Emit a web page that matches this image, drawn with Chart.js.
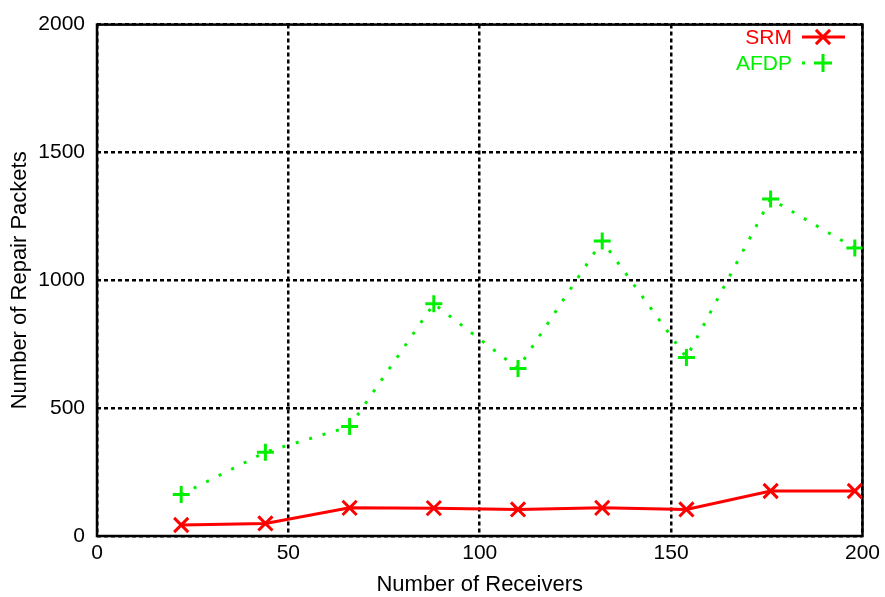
<!DOCTYPE html>
<html>
<head>
<meta charset="utf-8">
<script src="https://cdn.jsdelivr.net/npm/chart.js@4/dist/chart.umd.min.js"></script>
<style>
  html, body { margin: 0; padding: 0; background: #fff; }
  #wrap { width: 885px; height: 597px; }
</style>
</head>
<body>
<div id="wrap"><canvas id="c" width="885" height="597"></canvas></div>
<script>
const receivers = [22, 44, 66, 88, 110, 132, 154, 176, 198];
const srmValues = [43, 49, 110, 109, 104, 110, 104, 176, 176];
const afdpValues = [162, 328, 428, 908, 655, 1154, 698, 1318, 1126];
const xTicks = [0, 50, 100, 150, 200];
const yTicks = [0, 500, 1000, 1500, 2000];
const seriesNames = ['SRM', 'AFDP'];
const xTitle = 'Number of Receivers';
const yTitle = 'Number of Repair Packets';

const RED = '#ff0000';
const GREEN = '#00f000';
const FONT = '"Liberation Sans", Arial, Helvetica, sans-serif';

const toPts = (xs, ys) => xs.map((x, i) => ({ x: x, y: ys[i] }));

const frameAndLegend = {
  id: 'frameAndLegend',
  beforeDatasetsDraw(chart) {
    const { ctx, chartArea: a } = chart;
    ctx.save();
    ctx.strokeStyle = '#000';
    ctx.lineWidth = 2.5;
    ctx.setLineDash([]);
    ctx.strokeRect(a.left, a.top, a.right - a.left, a.bottom - a.top);
    ctx.restore();
  },
  afterDatasetsDraw(chart) {
    const { ctx } = chart;
    const rows = [
      { name: seriesNames[0], color: RED, y: 37, dash: [], style: 'crossRot', r: 10, x2: 845 },
      { name: seriesNames[1], color: GREEN, y: 63, dash: [3, 11], style: 'cross', r: 9, x2: 812 }
    ];
    rows.forEach(row => {
      ctx.save();
      ctx.font = '21px ' + FONT;
      ctx.fillStyle = row.color;
      ctx.textAlign = 'right';
      ctx.textBaseline = 'middle';
      ctx.fillText(row.name, 792, row.y + 1);
      ctx.strokeStyle = row.color;
      ctx.lineWidth = 3;
      ctx.setLineDash(row.dash);
      ctx.beginPath();
      ctx.moveTo(802, row.y);
      ctx.lineTo(row.x2, row.y);
      ctx.stroke();
      ctx.setLineDash([]);
      Chart.helpers.drawPoint(ctx, {
        pointStyle: row.style, radius: row.r, borderWidth: 3, rotation: 0
      }, 823, row.y);
      ctx.restore();
    });
  }
};

new Chart(document.getElementById('c'), {
  type: 'scatter',
  data: {
    datasets: [
      {
        label: seriesNames[0],
        data: toPts(receivers, srmValues),
        showLine: true,
        borderColor: RED,
        backgroundColor: RED,
        borderWidth: 3,
        pointStyle: 'crossRot',
        pointRadius: 10,
        pointBorderWidth: 3,
        pointBorderColor: RED,
        tension: 0
      },
      {
        label: seriesNames[1],
        data: toPts(receivers, afdpValues),
        showLine: true,
        borderColor: GREEN,
        backgroundColor: GREEN,
        borderWidth: 3,
        borderDash: [3, 11],
        pointStyle: 'cross',
        pointRadius: 8.5,
        pointBorderWidth: 3,
        pointBorderColor: GREEN,
        tension: 0
      }
    ]
  },
  options: {
    responsive: false,
    animation: false,
    devicePixelRatio: 1,
    layout: { padding: { top: 22, right: 22, left: 0, bottom: 0 } },
    plugins: { legend: { display: false }, tooltip: { enabled: false } },
    scales: {
      x: {
        type: 'linear',
        min: 0, max: 200,
        afterFit(s) { s.height = 61; },
        afterBuildTicks(s) { s.ticks = xTicks.map(v => ({ value: v })); },
        ticks: { color: '#000', font: { family: FONT, size: 21 }, padding: 5, maxRotation: 0, callback: v => String(v) },
        grid: { color: '#000', lineWidth: 2.5, drawTicks: false },
        border: { display: false, dash: [4, 3] },
        title: { display: true, text: xTitle, color: '#000', font: { family: FONT, size: 22 }, padding: { top: 0, bottom: -1 } }
      },
      y: {
        type: 'linear',
        min: 0, max: 2000,
        afterFit(s) { s.width = 97; },
        afterBuildTicks(s) { s.ticks = yTicks.map(v => ({ value: v })); },
        ticks: { color: '#000', font: { family: FONT, size: 21 }, padding: 12, callback: v => String(v) },
        grid: { color: '#000', lineWidth: 2.5, drawTicks: false },
        border: { display: false, dash: [4, 3] },
        title: { display: true, text: yTitle, color: '#000', font: { family: FONT, size: 22 }, padding: { top: 7, bottom: 0 } }
      }
    }
  },
  plugins: [frameAndLegend]
});
</script>
</body>
</html>
